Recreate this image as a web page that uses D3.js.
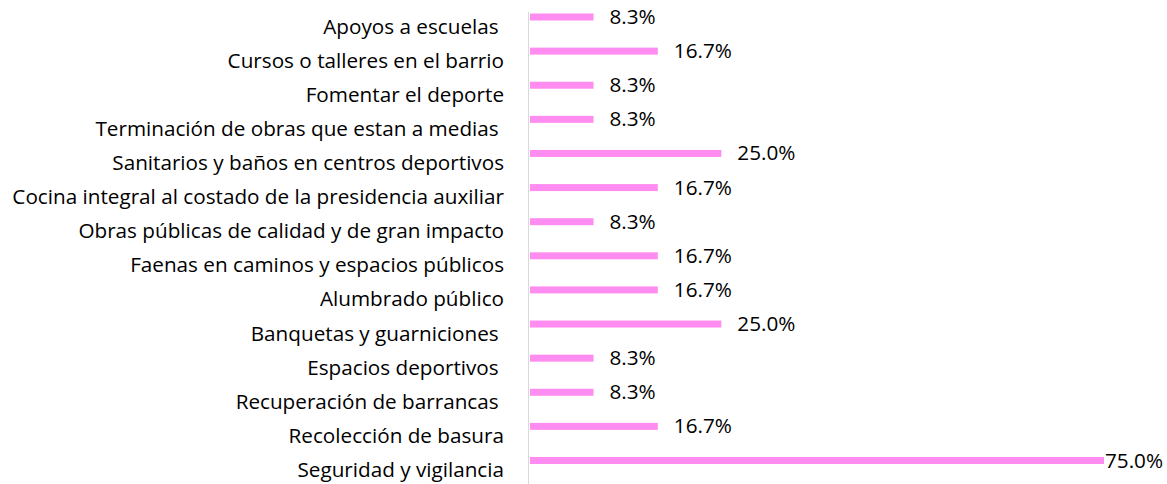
<!DOCTYPE html>
<html>
<head>
<meta charset="utf-8">
<script src="https://cdn.jsdelivr.net/npm/d3@7"></script>
<style>
  body { margin: 0; background: #fff; }
  svg text { font-family: "Open Sans", "Noto Sans", sans-serif; fill: #000; white-space: pre; }
</style>
</head>
<body>
<script>
// categories, top to bottom as in the chart
var categories = [
  "Apoyos a escuelas ",
  "Cursos o talleres en el barrio",
  "Fomentar el deporte",
  "Terminación de obras que estan a medias ",
  "Sanitarios y baños en centros deportivos",
  "Cocina integral al costado de la presidencia auxiliar",
  "Obras públicas de calidad y de gran impacto",
  "Faenas en caminos y espacios públicos",
  "Alumbrado público",
  "Banquetas y guarniciones ",
  "Espacios deportivos ",
  "Recuperación de barrancas ",
  "Recolección de basura",
  "Seguridad y vigilancia"
];
var values = [8.3, 16.7, 8.3, 8.3, 25.0, 16.7, 8.3, 16.7, 16.7, 25.0, 8.3, 8.3, 16.7, 75.0];

var W = 1167, H = 484;

var svg = d3.select("body").append("svg")
  .attr("width", W)
  .attr("height", H);

var x = d3.scaleLinear()
  .domain([0, 75])
  .range([530, 1104]);

var y = d3.scalePoint()
  .domain(categories)
  .range([17, 460.5]);

var barH = 7;

// vertical axis line
svg.append("line")
  .attr("x1", x(0) - 1.5).attr("x2", x(0) - 1.5)
  .attr("y1", 12).attr("y2", H)
  .attr("stroke", "#d9d9d9")
  .attr("stroke-width", 1);

svg.selectAll(".bar")
  .data(values)
  .enter().append("rect")
  .attr("class", "bar")
  .attr("x", x(0))
  .attr("y", function(d, i) { return y(categories[i]) - barH / 2; })
  .attr("width", function(d) { return x(d) - x(0); })
  .attr("height", barH)
  .attr("fill", "#ff8cf0");

// category labels
svg.selectAll(".cat")
  .data(categories)
  .enter().append("text")
  .attr("class", "cat")
  .attr("x", 504)
  .attr("y", function(d) { return y(d) + 16.5; })
  .attr("text-anchor", "end")
  .style("font-size", "20.7px")
  .text(function(d) { return d; });

// value labels
svg.selectAll(".val")
  .data(values)
  .enter().append("text")
  .attr("class", "val")
  .attr("x", function(d) { return Math.min(x(d) + 16, 1105); })
  .attr("y", function(d, i) { return y(categories[i]) + 7; })
  .style("font-size", "20.7px")
  .text(function(d) { return d.toFixed(1) + "%"; });
</script>
</body>
</html>
